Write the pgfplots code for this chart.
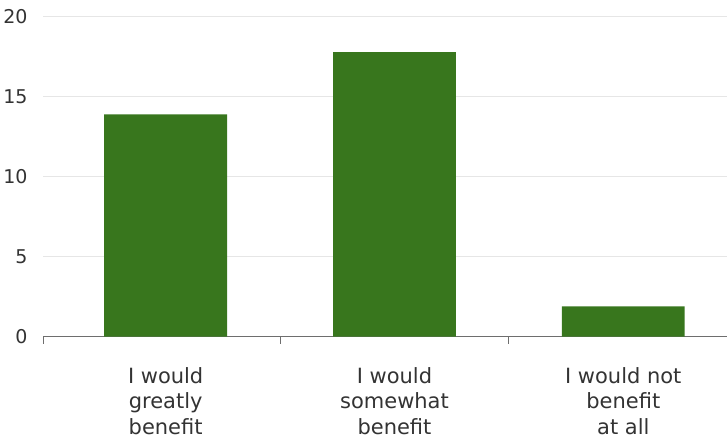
\documentclass[border=0pt]{standalone}
\usepackage{pgfplots}
\pgfplotsset{compat=1.18}
\usepackage{fontspec}
\setmainfont{DejaVu Sans}
\definecolor{barG}{HTML}{38761D}
\definecolor{txt}{HTML}{333333}
\definecolor{gridc}{HTML}{E6E6E6}
\definecolor{axc}{HTML}{6E6E6E}
\begin{document}
\begin{tikzpicture}
\begin{axis}[
  scale only axis,
  width=685pt, height=320pt,
  xmin=-0.536, xmax=2.455,
  ymin=0, ymax=20,
  ybar, bar width=123pt,
  axis x line*=bottom, axis y line*=left,
  x axis line style={draw=axc, line width=1.2pt, -},
  y axis line style={draw=none},
  ytick={0,5,10,15,20},
  ymajorgrids,
  grid style={draw=gridc, line width=1pt},
  ytick style={draw=none},
  yticklabel style={font=\fontsize{19}{20}\selectfont, text=txt, xshift=-5pt},
  /pgf/number format/assume math mode=true,
  xtick={-0.536,0.5,1.5},
  xticklabels={},
  tick align=outside,
  major tick length=7pt,
  xtick style={draw=axc, line width=1pt},
  extra x ticks={0,1,2},
  extra x tick labels={{I would\\greatly\\benefit},{I would\\somewhat\\benefit},{I would not\\benefit\\ at all}},
  extra x tick style={major tick length=0pt, xtick style={draw=none}, grid=none,
    xticklabel style={font=\fontsize{21}{25.5}\selectfont, text=txt, align=center, yshift=-27pt}},
  clip=false,
]
\addplot[fill=barG, draw=none] coordinates {(0,13.9) (1,17.8) (2,1.9)};
\end{axis}
\path[use as bounding box] ([xshift=-43pt,yshift=-100pt]current axis.south west) rectangle ([yshift=17pt]current axis.north east);
\end{tikzpicture}
\end{document}
